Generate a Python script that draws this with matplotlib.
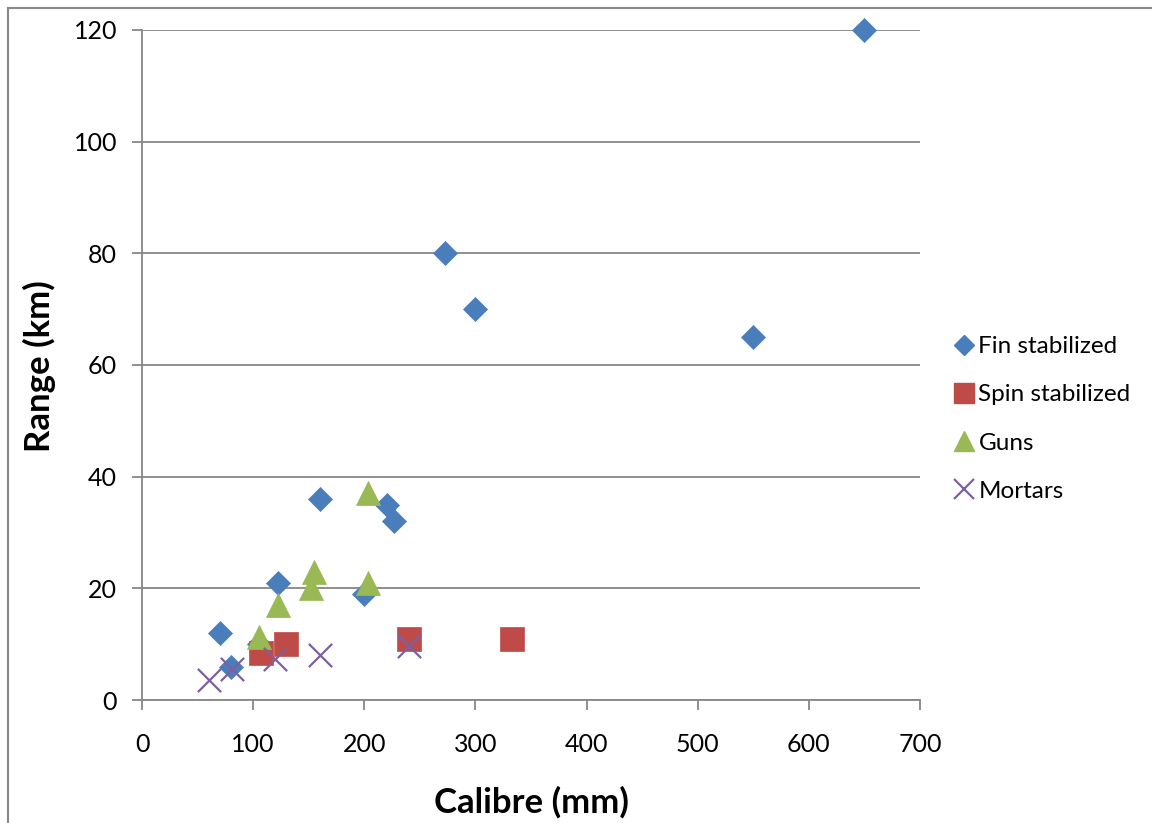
import matplotlib
matplotlib.use("Agg")
import matplotlib.pyplot as plt
from matplotlib.lines import Line2D
from matplotlib.patches import Rectangle

# Data
fin_x = [70, 80, 105, 122, 160, 200, 220, 227, 273, 300, 550, 650]
fin_y = [12, 6, 10, 21, 36, 19, 35, 32, 80, 70, 65, 120]
spin_x = [107, 130, 240, 333]
spin_y = [8.5, 10, 11, 11]
guns_x = [105, 122, 152, 155, 203, 203]
guns_y = [11.3, 17, 20, 23, 21, 37]
mort_x = [60, 81, 120, 160, 240]
mort_y = [3.5, 5.6, 7.3, 8, 9.7]
series_names = ["Fin stabilized", "Spin stabilized", "Guns", "Mortars"]
x_ticks = [0, 100, 200, 300, 400, 500, 600, 700]
y_ticks = [0, 20, 40, 60, 80, 100, 120]

plt.rcParams['font.family'] = ['Lato', 'DejaVu Sans']

W, H = 1152, 823
fig = plt.figure(figsize=(W/100, H/100), dpi=100)
ax = fig.add_axes([142/W, 1-700/H, (920-142)/W, (700-30)/H])

blue = '#4A7EBB'
red = '#BE4B48'
green = '#98B954'
purple = '#7D60A0'

ax.scatter(fin_x, fin_y, marker='D', s=150, color=blue, edgecolors=blue, linewidths=0.5, zorder=3, clip_on=False)
ax.scatter(spin_x, spin_y, marker='s', s=290, color=red, edgecolors=red, linewidths=0.5, zorder=3, clip_on=False)
ax.scatter(guns_x, guns_y, marker='^', s=300, color=green, edgecolors=green, linewidths=0.5, zorder=3, clip_on=False)
ax.scatter(mort_x, mort_y, marker='x', s=280, color=purple, linewidths=1.6, zorder=3, clip_on=False)

ax.set_xlim(0, 700)
ax.set_ylim(0, 120)
ax.set_xticks(x_ticks)
ax.set_yticks(y_ticks)
ax.grid(axis='y', color='#878787', linewidth=1.3, zorder=0)
ax.set_axisbelow(True)
for s in ['top', 'right']:
    ax.spines[s].set_visible(False)
for s in ['left', 'bottom']:
    ax.spines[s].set_color('#878787')
    ax.spines[s].set_linewidth(1.3)
ax.tick_params(axis='both', direction='out', length=7, width=1.3, color='#878787',
               labelsize=18)
ax.tick_params(axis='x', pad=17)
ax.tick_params(axis='y', pad=11)
ax.set_xlabel('Calibre (mm)', fontsize=25, fontweight='bold', va='center')
ax.set_ylabel('Range (km)', fontsize=25, fontweight='bold', va='center')
ax.xaxis.set_label_coords((531-142)/778, (700-802)/670)
ax.yaxis.set_label_coords((39-142)/778, (700-366)/670)

handles = [
    Line2D([], [], marker='D', linestyle='none', color=blue, markersize=10),
    Line2D([], [], marker='s', linestyle='none', color=red, markersize=14),
    Line2D([], [], marker='^', linestyle='none', color=green, markersize=14),
    Line2D([], [], marker='x', linestyle='none', color=purple, markersize=14, markeredgewidth=1.6),
]
leg = fig.legend(handles, series_names, loc='center left', bbox_to_anchor=(942/W, 1-419/H),
                 frameon=False, fontsize=17.5, handlelength=0.8, handletextpad=0.2,
                 labelspacing=1.12, borderpad=0)

fig.patches.append(Rectangle((8/W, -0.1), 2, 1.1-8/H, transform=fig.transFigure,
                             fill=False, edgecolor='#888888', linewidth=1.5))

fig.savefig('out.png', dpi=100)
